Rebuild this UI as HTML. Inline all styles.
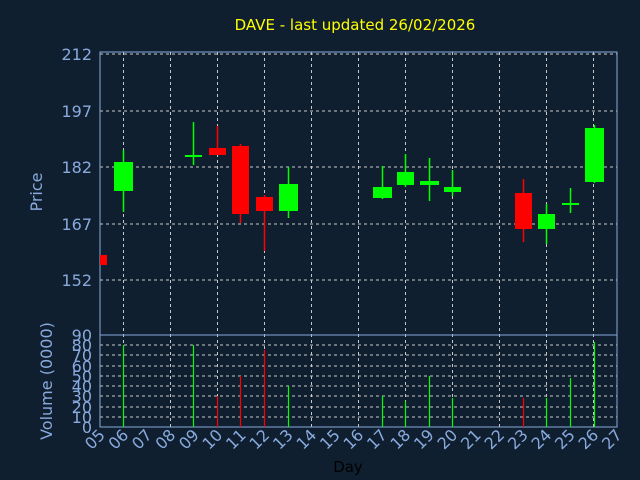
<!DOCTYPE html><html><head><style>body{margin:0;background:#101f30}svg{display:block}text{font-family:"DejaVu Sans",sans-serif}</style></head><body>
<svg width="640" height="480" xmlns="http://www.w3.org/2000/svg">
<rect width="640" height="480" fill="#101f30"/>
<text x="355" y="30" fill="#ffff00" font-size="15" text-anchor="middle">DAVE - last updated 26/02/2026</text>
<g stroke="#c8c8c8" stroke-dasharray="3,3" stroke-width="1">
<line x1="100" x2="617" y1="54" y2="54"/><line x1="100" x2="617" y1="111" y2="111"/><line x1="100" x2="617" y1="167" y2="167"/><line x1="100" x2="617" y1="224" y2="224"/><line x1="100" x2="617" y1="280" y2="280"/>
<line x1="123.5" x2="123.5" y1="52" y2="427"/><line x1="170.5" x2="170.5" y1="52" y2="427"/><line x1="217.5" x2="217.5" y1="52" y2="427"/><line x1="264.5" x2="264.5" y1="52" y2="427"/><line x1="311.5" x2="311.5" y1="52" y2="427"/><line x1="358.5" x2="358.5" y1="52" y2="427"/><line x1="405.5" x2="405.5" y1="52" y2="427"/><line x1="452.5" x2="452.5" y1="52" y2="427"/><line x1="499.5" x2="499.5" y1="52" y2="427"/><line x1="546.5" x2="546.5" y1="52" y2="427"/><line x1="593.5" x2="593.5" y1="52" y2="427"/>
<line x1="100" x2="617" y1="345" y2="345"/><line x1="100" x2="617" y1="355" y2="355"/><line x1="100" x2="617" y1="366" y2="366"/><line x1="100" x2="617" y1="376" y2="376"/><line x1="100" x2="617" y1="386" y2="386"/><line x1="100" x2="617" y1="396" y2="396"/><line x1="100" x2="617" y1="407" y2="407"/><line x1="100" x2="617" y1="417" y2="417"/>
</g>
<g stroke="#88aadd" fill="none"><rect x="100" y="52" width="517" height="375"/><line x1="100" x2="617" y1="335" y2="335"/></g>
<g fill="#88aadd" font-size="16" text-anchor="end">
<text x="92" y="60">212</text><text x="92" y="117">197</text><text x="92" y="173">182</text><text x="92" y="230">167</text><text x="92" y="286">152</text></g>
<g fill="#88aadd" font-size="16" text-anchor="end">
<text x="92" y="341">90</text><text x="92" y="351">80</text><text x="92" y="361">70</text><text x="92" y="372">60</text><text x="92" y="382">50</text><text x="92" y="392">40</text><text x="92" y="402">30</text><text x="92" y="413">20</text><text x="92" y="423">10</text><text x="92" y="433">0</text></g>
<text transform="translate(42,192) rotate(-90)" fill="#88aadd" font-size="16" text-anchor="middle">Price</text>
<text transform="translate(52,381) rotate(-90)" fill="#88aadd" font-size="16" text-anchor="middle">Volume (0000)</text>
<text x="348" y="472" fill="#000" font-size="15" text-anchor="middle">Day</text>
<g fill="#88aadd" font-size="16" text-anchor="end">
<text transform="translate(106,436) rotate(-45)">05</text><text transform="translate(129.5,436) rotate(-45)">06</text><text transform="translate(153,436) rotate(-45)">07</text><text transform="translate(176.5,436) rotate(-45)">08</text><text transform="translate(200,436) rotate(-45)">09</text><text transform="translate(223.5,436) rotate(-45)">10</text><text transform="translate(247,436) rotate(-45)">11</text><text transform="translate(270.5,436) rotate(-45)">12</text><text transform="translate(294,436) rotate(-45)">13</text><text transform="translate(317.5,436) rotate(-45)">14</text><text transform="translate(341,436) rotate(-45)">15</text><text transform="translate(364.5,436) rotate(-45)">16</text><text transform="translate(388,436) rotate(-45)">17</text><text transform="translate(411.5,436) rotate(-45)">18</text><text transform="translate(435,436) rotate(-45)">19</text><text transform="translate(458.5,436) rotate(-45)">20</text><text transform="translate(482,436) rotate(-45)">21</text><text transform="translate(505.5,436) rotate(-45)">22</text><text transform="translate(529,436) rotate(-45)">23</text><text transform="translate(552.5,436) rotate(-45)">24</text><text transform="translate(576,436) rotate(-45)">25</text><text transform="translate(599.5,436) rotate(-45)">26</text><text transform="translate(623,436) rotate(-45)">27</text></g>
<g stroke-width="1.5">
<g stroke="#00ff00"><line x1="123.5" x2="123.5" y1="150" y2="212"/><line x1="193.5" x2="193.5" y1="122" y2="165"/><line x1="288.5" x2="288.5" y1="167" y2="218"/><line x1="382.5" x2="382.5" y1="166" y2="199"/><line x1="405.5" x2="405.5" y1="154" y2="187"/><line x1="429.5" x2="429.5" y1="158" y2="201"/><line x1="452.5" x2="452.5" y1="170" y2="196"/><line x1="546.5" x2="546.5" y1="204" y2="244"/><line x1="570.5" x2="570.5" y1="188" y2="213"/><line x1="594.5" x2="594.5" y1="125" y2="183"/></g>
<g stroke="#ff0000"><line x1="217.5" x2="217.5" y1="126" y2="155"/><line x1="240.5" x2="240.5" y1="144" y2="223"/><line x1="264.5" x2="264.5" y1="195" y2="251"/><line x1="523.5" x2="523.5" y1="179" y2="242"/></g>
</g>
<g fill="#00ff00"><rect x="114" y="162" width="19" height="29"/><rect x="185" y="155" width="17" height="2"/><rect x="279" y="184" width="19" height="27"/><rect x="373" y="187" width="19" height="11"/><rect x="397" y="172" width="17" height="13"/><rect x="420" y="181" width="19" height="4"/><rect x="444" y="187" width="17" height="5"/><rect x="538" y="214" width="17" height="15"/><rect x="562" y="203" width="17" height="2"/><rect x="585" y="128" width="19" height="54"/></g>
<g fill="#ff0000"><rect x="100" y="255" width="7" height="10"/><rect x="209" y="148" width="17" height="7"/><rect x="232" y="146" width="17" height="68"/><rect x="256" y="197" width="17" height="14"/><rect x="515" y="193" width="17" height="36"/></g>
<g stroke-width="1.2">
<g stroke="#00ff00"><line x1="123.5" x2="123.5" y1="345" y2="427"/><line x1="193.5" x2="193.5" y1="345" y2="427"/><line x1="288.5" x2="288.5" y1="386" y2="427"/><line x1="382.5" x2="382.5" y1="396" y2="427"/><line x1="405.5" x2="405.5" y1="401" y2="427"/><line x1="429.5" x2="429.5" y1="376" y2="427"/><line x1="452.5" x2="452.5" y1="398" y2="427"/><line x1="546.5" x2="546.5" y1="398" y2="427"/><line x1="570.5" x2="570.5" y1="378" y2="427"/><line x1="594.5" x2="594.5" y1="342" y2="427"/></g>
<g stroke="#ff0000"><line x1="217.5" x2="217.5" y1="396" y2="427"/><line x1="240.5" x2="240.5" y1="376" y2="427"/><line x1="264.5" x2="264.5" y1="350" y2="427"/><line x1="523.5" x2="523.5" y1="398" y2="427"/></g>
</g>
</svg></body></html>
